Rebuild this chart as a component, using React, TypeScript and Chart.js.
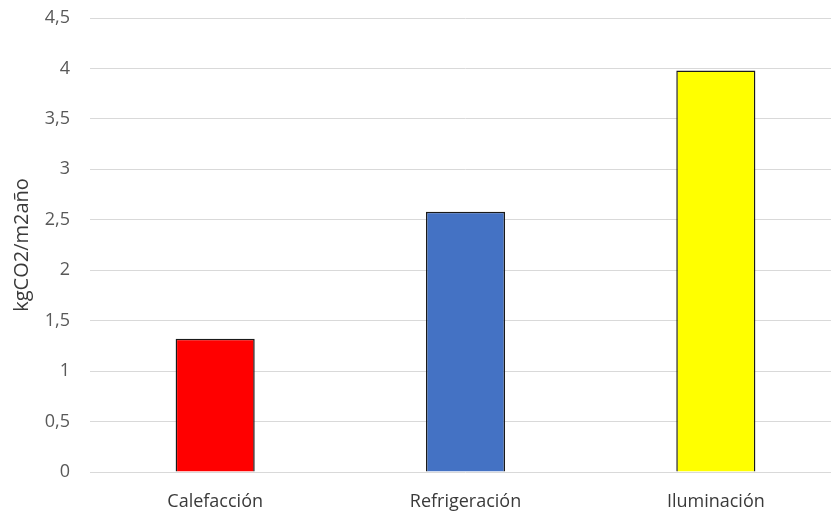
import React, { useEffect, useRef } from "react";
import { Chart, registerables } from "chart.js";

Chart.register(...registerables);

const categories = ["Calefacción", "Refrigeración", "Iluminación"];
const values = [1.32, 2.58, 3.98];
const barColors = ["#FF0000", "#4472C4", "#FFFF00"];
const yTitle = "kgCO2/m2año";
const yMin = 0;
const yMax = 4.5;
const yStep = 0.5;

export default function App() {
  const ref = useRef<HTMLCanvasElement | null>(null);

  useEffect(() => {
    if (!ref.current) return;
    const chart = new Chart(ref.current, {
      type: "bar",
      data: {
        labels: categories,
        datasets: [
          {
            data: values,
            backgroundColor: barColors,
            borderColor: "#1a1a1a",
            borderWidth: 1.5,
            categoryPercentage: 1,
            barPercentage: 0.316,
          },
        ],
      },
      options: {
        responsive: false,
        animation: false,
        devicePixelRatio: 1,
        layout: { padding: { left: 0, right: 10, top: 18, bottom: 0 } },
        plugins: { legend: { display: false }, tooltip: { enabled: false } },
        scales: {
          x: {
            grid: { display: false, drawTicks: false },
            border: { display: false },
            ticks: {
              padding: 19,
              color: "#3a3a3a",
              font: { family: "Open Sans", size: 18 },
              maxRotation: 0,
            },
            afterFit: (s: any) => {
              s.height = 41;
              s.paddingLeft = 0;
              s.paddingRight = 0;
            },
          },
          y: {
            min: yMin,
            max: yMax,
            grid: { color: "#d9d9d9", lineWidth: 1, drawTicks: false },
            border: { display: false },
            ticks: {
              stepSize: yStep,
              padding: 20,
              color: "#595959",
              font: { family: "Open Sans", size: 18 },
              callback: (v: any) => String(v).replace(".", ","),
            },
            title: {
              display: true,
              text: yTitle,
              color: "#3a3a3a",
              font: { family: "Open Sans", size: 20 },
              padding: { top: 10, bottom: 0 },
            },
            afterFit: (s: any) => {
              s.width = 90;
              s.paddingTop = 0;
              s.paddingBottom = 0;
            },
          },
        },
      },
    });
    return () => chart.destroy();
  }, []);

  return (
    <div
      style={{
        position: "fixed",
        left: 0,
        top: 0,
        width: 831,
        height: 513,
        overflow: "hidden",
        background: "#fff",
      }}
    >
      <canvas ref={ref} width={851} height={513} style={{ display: "block" }} />
    </div>
  );
}
